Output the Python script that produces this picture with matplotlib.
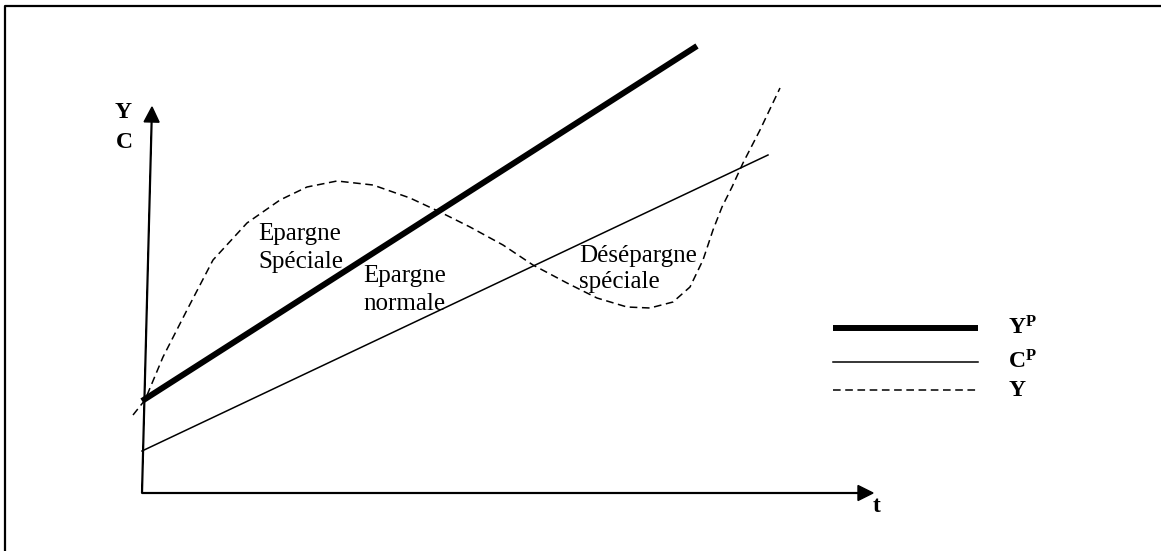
import matplotlib
matplotlib.use("Agg")
import matplotlib.pyplot as plt

plt.rcParams['font.family'] = ['Liberation Serif', 'DejaVu Serif']
plt.rcParams['mathtext.fontset'] = 'custom'
plt.rcParams['mathtext.rm'] = 'Liberation Serif'
plt.rcParams['mathtext.bf'] = 'Liberation Serif:bold'

t_yp = [0, 555]          # revenu permanent Y^P
v_yp = [92, 447]
t_cp = [0, 626]          # consommation permanente C^P
v_cp = [42, 338]
t_y = [-9, 3, 21, 45, 71, 105, 138, 165, 195, 231, 268, 298, 328, 361, 391,
       425, 455, 485, 508, 531, 548, 561, 571, 580, 590, 601, 618, 638]   # revenu courant Y
v_y = [78, 93, 136, 183, 233, 270, 293, 306, 312, 308, 295, 281, 266, 248, 228,
       210, 195, 186, 185, 191, 206, 233, 263, 286, 306, 330, 363, 405]

legende = [r'$\mathbf{Y^P}$', r'$\mathbf{C^P}$', r'$\mathbf{Y}$']

fig = plt.figure(figsize=(11.61, 5.51), dpi=100)
ax = fig.add_axes([0, 0, 1, 1])
ax.set_xlim(-142, 1161 - 142)
ax.set_ylim(-58, 493)
ax.axis('off')

# cadre
ax.plot([-137, -137, 1161 - 142], [-58, 487, 487], color='black', lw=1.6,
        solid_capstyle='butt')

# axes
ax.arrow(0, 0, 10, 386, width=0.8, head_width=15, head_length=15,
         length_includes_head=True, color='black')
ax.arrow(0, 0, 731, 0, width=0.8, head_width=15, head_length=15,
         length_includes_head=True, color='black')
ax.text(-19, 380, 'Y', fontsize=17, fontweight='bold', ha='center', va='center')
ax.text(-18, 351, 'C', fontsize=17, fontweight='bold', ha='center', va='center')
ax.text(735, -14, 't', fontsize=17, fontweight='bold', ha='center', va='center')

# courbes
ax.plot(t_yp, v_yp, color='black', lw=4.3, solid_capstyle='butt')
ax.plot(t_cp, v_cp, color='black', lw=1.1)
ax.plot(t_y, v_y, color='black', lw=1.1, dashes=(5, 3))

# annotations
ax.text(116, 253, 'Epargne', fontsize=18, va='baseline')
ax.text(116, 225, 'Spéciale', fontsize=18, va='baseline')
ax.text(221, 211, 'Epargne', fontsize=18, va='baseline')
ax.text(221, 183, 'normale', fontsize=18, va='baseline')
ax.text(437, 231, 'Désépargne', fontsize=18, va='baseline')
ax.text(437, 205, 'spéciale', fontsize=18, va='baseline')

# légende
ax.plot([691, 836], [165, 165], color='black', lw=4.3, solid_capstyle='butt')
ax.plot([691, 836], [131, 131], color='black', lw=1.1)
ax.plot([691, 836], [103, 103], color='black', lw=1.1, dashes=(5, 3))
for v, lab in zip([165, 131, 103], legende):
    ax.text(866, v, lab, fontsize=17, va='center')

fig.savefig('out.png', dpi=100)
